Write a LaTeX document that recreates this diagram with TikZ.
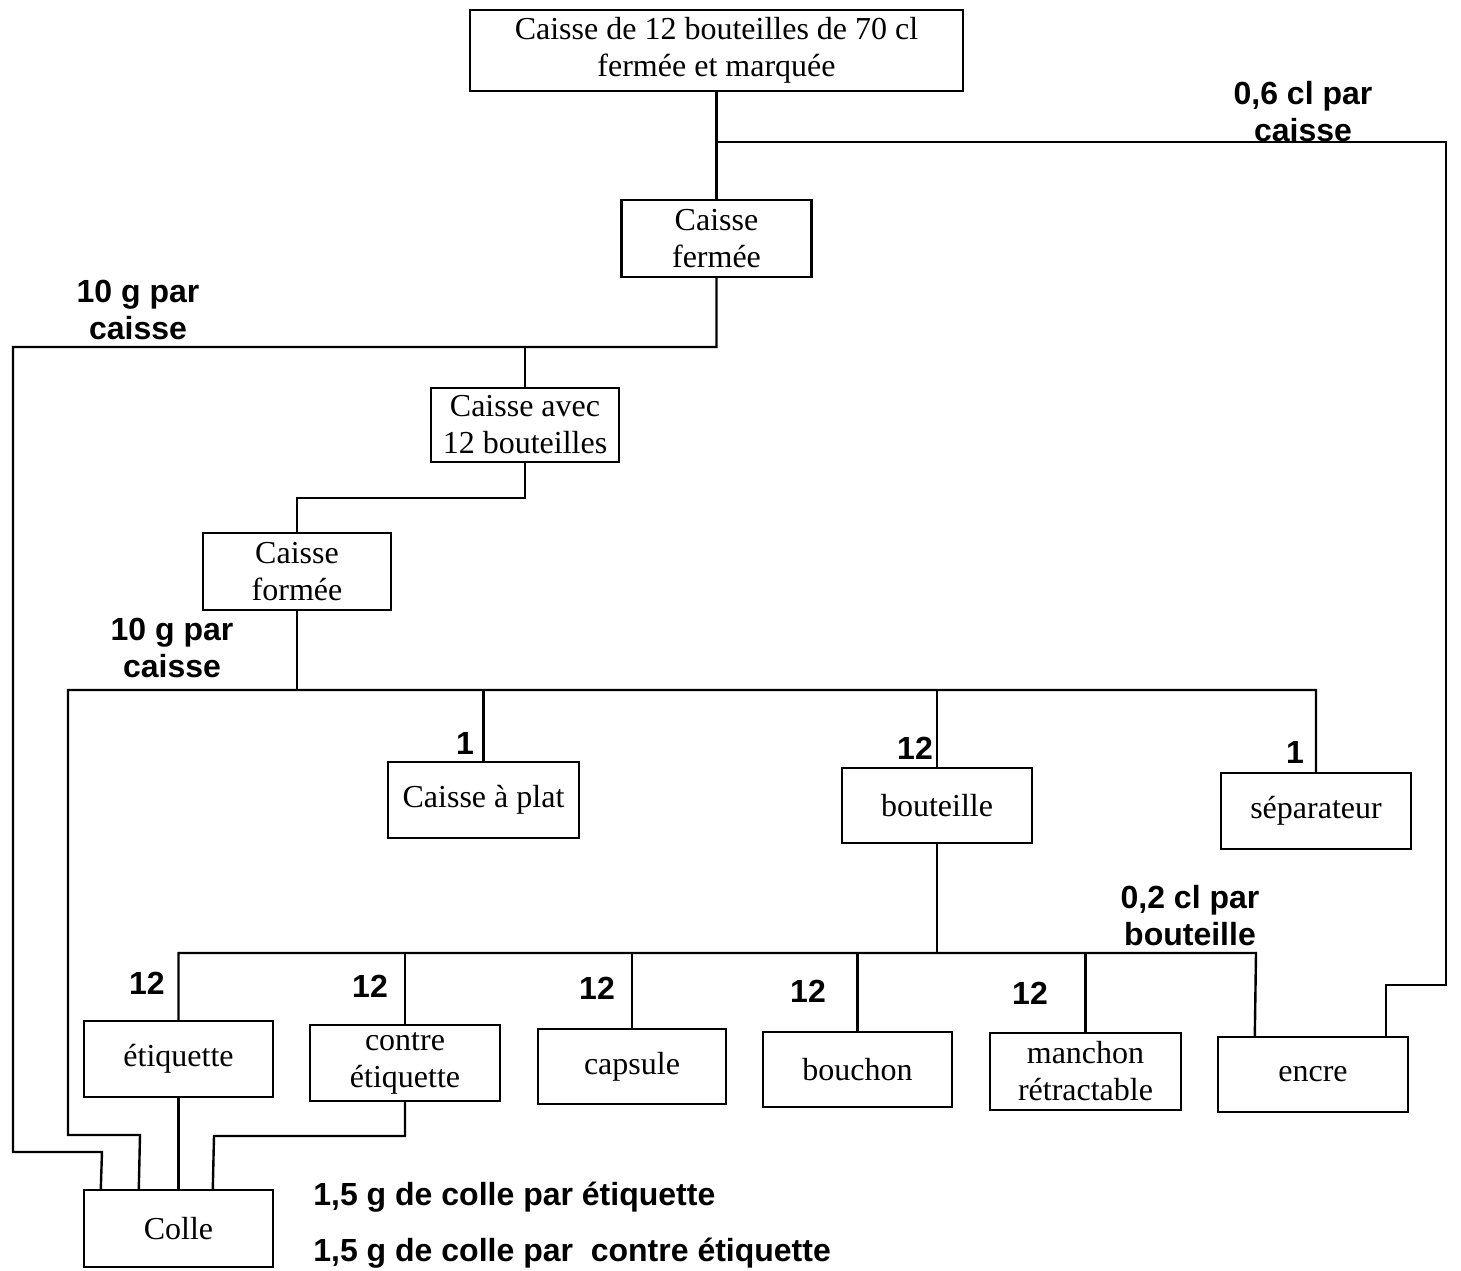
\documentclass[tikz,border=0pt]{standalone}
\usepackage{fontspec}
\setmainfont{Liberation Serif}
\newfontfamily\lblfont{Liberation Sans}
\begin{document}
\begin{tikzpicture}[x=0.5pt,y=-0.5pt,
  box/.style={draw,line width=1.2pt,inner sep=0pt,align=center,
    font=\fontsize{16pt}{18.5pt}\selectfont},
  lbl/.style={inner sep=0pt,align=center,
    font=\lblfont\bfseries\fontsize{16pt}{18.5pt}\selectfont},
  conn/.style={line width=1.2pt}]
\useasboundingbox (0,0) rectangle (1461,1270);
% boxes
\node[box,minimum width=246.5pt,minimum height=40.5pt] (top) at (716.5,50.5) {Caisse de 12 bouteilles de 70 cl\\fermée et marquée};
\node[box,minimum width=95pt,minimum height=38.5pt] (cf) at (716.5,238.5) {Caisse\\fermée};
\node[box,minimum width=94pt,minimum height=37pt] (ca) at (525,425) {Caisse avec\\12 bouteilles};
\node[box,minimum width=94pt,minimum height=38.5pt] (cfo) at (297,571.5) {Caisse\\formée};
\node[box,minimum width=95.5pt,minimum height=38pt] (cap) at (483.5,800) {Caisse à plat};
\node[box,minimum width=95pt,minimum height=37.5pt] (bou) at (937,805.5) {bouteille};
\node[box,minimum width=95pt,minimum height=38pt] (sep) at (1316,811) {séparateur};
\node[box,minimum width=94.5pt,minimum height=38pt] (eti) at (178.5,1059) {étiquette};
\node[box,minimum width=95pt,minimum height=38pt] (con) at (405,1063) {contre\\étiquette};
\node[box,minimum width=94pt,minimum height=37.5pt] (caps) at (632,1066.5) {capsule};
\node[box,minimum width=94.5pt,minimum height=37.5pt] (bch) at (857.5,1069.5) {bouchon};
\node[box,minimum width=95.5pt,minimum height=38.5pt] (man) at (1085.5,1071.5) {manchon\\rétractable};
\node[box,minimum width=95pt,minimum height=37.5pt] (enc) at (1313,1074.5) {encre};
\node[box,minimum width=94.5pt,minimum height=38.5pt] (col) at (178.5,1228.5) {Colle};
% junction coordinates
\coordinate (j1) at (716.5,142);
\coordinate (r1) at (1446,985);
\coordinate (L1) at (13,347);
\coordinate (L2) at (102,1152);
\coordinate (L3) at (68,690);
\coordinate (L4) at (140,1135);
\coordinate (L5) at (178.5,953);
\coordinate (L5r) at (1256,953);
\coordinate (L6) at (214,1136);
% connectors
\draw[conn] (top.south) -- (cf.north);
\draw[conn] (j1) -| (r1) -| ([xshift=-11.5pt]enc.north east);
\draw[conn] (cf.south) |- (L1) |- (L2) -- ([xshift=9pt]col.north west);
\draw[conn] (ca.north) -- (ca.north |- L1);
\draw[conn] (ca.south) -- ++(0,35) -| (cfo.north);
\draw[conn] (sep.north) |- (L3) |- (L4) -- ([xshift=28pt]col.north west);
\draw[conn] (cfo.south) -- (cfo.south |- L3);
\draw[conn] (cap.north) -- (cap.north |- L3);
\draw[conn] (bou.north) -- (bou.north |- L3);
\draw[conn] (bou.south) -- (bou.south |- L5);
\draw[conn] (eti.north) |- (L5r) -- ([xshift=19pt]enc.north west);
\draw[conn] (con.north) -- (con.north |- L5);
\draw[conn] (caps.north) -- (caps.north |- L5);
\draw[conn] (bch.north) -- (bch.north |- L5);
\draw[conn] (man.north) -- (man.north |- L5);
\draw[conn] (eti.south) -- (col.north);
\draw[conn] (con.south) |- (L6) -- ([xshift=65pt]col.north west);
% labels
\node[lbl] (l06) at (1303,112) {0,6 cl par\\caisse};
\node[lbl] (l10a) at (138,310) {10 g par\\caisse};
\node[lbl] (l10b) at (172,648) {10 g par\\caisse};
\node[lbl] (l02) at (1190,916) {0,2 cl par\\bouteille};
\node[lbl] (n1) at (465,743) {1};
\node[lbl] (n2) at (915,748) {12};
\node[lbl] (n3) at (1295,752) {1};
\node[lbl] (n4) at (147,983) {12};
\node[lbl] (n5) at (370,986) {12};
\node[lbl] (n6) at (597,988) {12};
\node[lbl] (n7) at (808,991) {12};
\node[lbl] (n8) at (1030,993) {12};
\node[lbl,anchor=west] (g1) at (313,1197) {1,5 g de colle par étiquette};
\node[lbl,anchor=west] (g2) at (313,1253) {1,5 g de colle par\ \ contre étiquette};
\end{tikzpicture}
\end{document}
